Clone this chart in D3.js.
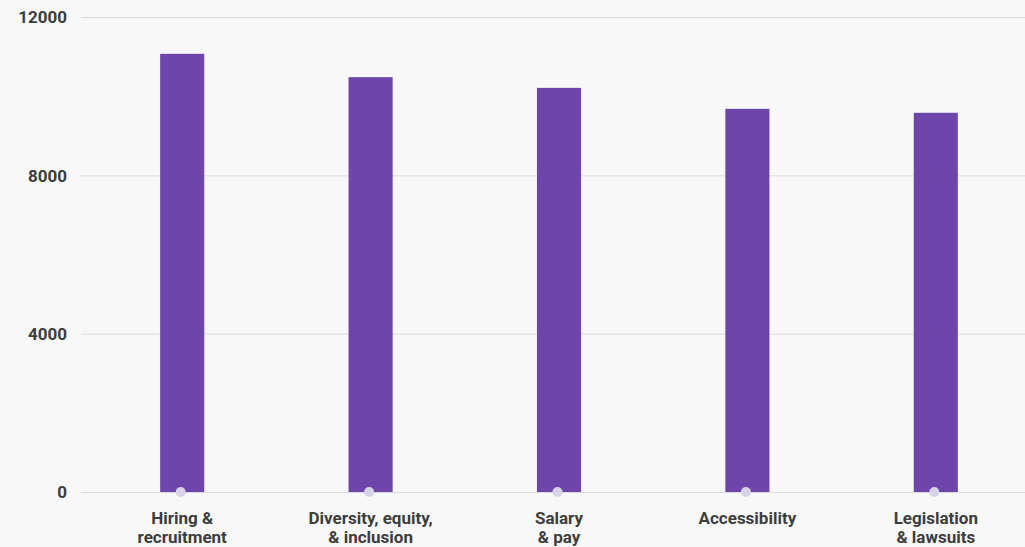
<!DOCTYPE html>
<html>
<head>
<meta charset="utf-8">
<script src="https://cdn.jsdelivr.net/npm/d3@7"></script>
<style>
  html, body { margin: 0; padding: 0; background: #f8f8f8; }
  svg { display: block; }
  text { font-family: Roboto, "Noto Sans", sans-serif; }
</style>
</head>
<body>
<svg id="chart" width="1025" height="547"></svg>
<script>
// Topics and their counts
const categories = [
  ["Hiring &", "recruitment"],
  ["Diversity, equity,", "& inclusion"],
  ["Salary", "& pay"],
  ["Accessibility"],
  ["Legislation", "& lawsuits"]
];
const values = [11070, 10480, 10210, 9680, 9580];
const yTicks = [0, 4000, 8000, 12000];

const width = 1025, height = 547;
const svg = d3.select("#chart");

svg.append("rect").attr("width", width).attr("height", height).attr("fill", "#f8f8f8");

const x = d3.scaleBand()
  .domain(d3.range(categories.length))
  .range([88, 1030])
  .paddingInner(0.766)
  .paddingOuter(0.383);

const y = d3.scaleLinear().domain([0, 12000]).range([492, 17]);

// Horizontal grid lines with value labels
const yAxis = d3.axisLeft(y).tickValues(yTicks).tickFormat(d3.format("d")).tickSize(0).tickPadding(0);
const gy = svg.append("g").call(yAxis);
gy.select(".domain").remove();
gy.selectAll(".tick text")
  .attr("x", 67)
  .attr("dy", "0.35em")
  .attr("font-size", 17)
  .attr("font-weight", 700)
  .attr("fill", "#3d3d3d");
gy.selectAll(".tick line")
  .attr("x1", 81).attr("x2", width)
  .attr("stroke", "#dcd8e8")
  .attr("stroke-width", 1);

// Bars
svg.append("g").selectAll("rect")
  .data(values)
  .join("rect")
  .attr("x", (d, i) => x(i))
  .attr("y", d => y(d))
  .attr("width", x.bandwidth())
  .attr("height", d => y(0) - y(d))
  .attr("fill", "#6e46ab");

// Markers on the baseline
svg.append("g").selectAll("circle")
  .data(values)
  .join("circle")
  .attr("cx", (d, i) => x(i) + x.bandwidth() / 2 - 1.5)
  .attr("cy", y(0))
  .attr("r", 5)
  .attr("fill", "#d8d3e8");

// Category labels
const xAxis = d3.axisBottom(x).tickSize(0).tickFormat(() => "");
const gx = svg.append("g").attr("transform", `translate(0,${y(0)})`).call(xAxis);
gx.select(".domain").remove();
gx.selectAll(".tick text").each(function(d) {
  const t = d3.select(this)
    .attr("y", 26)
    .attr("dy", 0)
    .attr("font-size", 17)
    .attr("font-weight", 700)
    .attr("fill", "#3d3d3d")
    .attr("text-anchor", "middle");
  categories[d].forEach((line, k) => {
    t.append("tspan").attr("x", 0).attr("dy", k === 0 ? "0.35em" : 19).text(line);
  });
});
</script>
</body>
</html>
